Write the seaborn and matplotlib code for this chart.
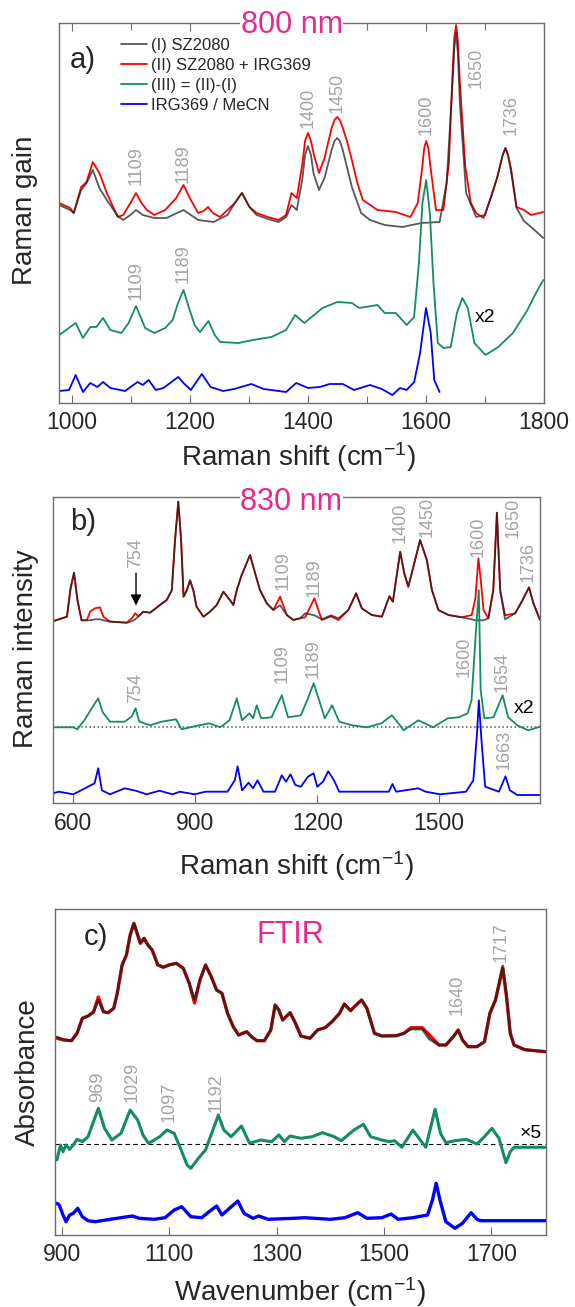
import matplotlib
matplotlib.use("Agg")
import matplotlib.pyplot as plt
import seaborn as sns

# ---------------- data ----------------
# panel a) 800 nm Raman gain, intensities in arbitrary units
a_red_x = [978.3, 996.9, 1003, 1015.5, 1024.8, 1035.3, 1046.5, 1059, 1077.5, 1086.8, 1099, 1108.5, 1117.8,
           1127, 1139.5, 1158, 1176.7, 1189, 1201.5, 1214, 1223, 1230.7, 1238.8, 1251, 1263.6, 1276, 1288,
           1300.8, 1313, 1332, 1350, 1362.8, 1372, 1381, 1390.7, 1395, 1400, 1405, 1409.3, 1418.6, 1428,
           1440, 1445, 1449.6, 1454, 1459, 1466, 1474.4, 1483.7, 1493, 1517.8, 1548.8, 1573.6, 1586,
           1593.5, 1597, 1600.3, 1604, 1607.8, 1617, 1629.5, 1638.8, 1645, 1648, 1651, 1654, 1657.4,
           1666.7, 1676, 1685, 1697.7, 1710, 1719, 1730, 1734.7, 1739, 1744, 1753.5, 1766, 1778, 1798.8]
a_red_y = [200, 195, 190, 216, 221, 241, 230, 210, 186, 188, 200, 210, 200,
           193, 188, 193, 205, 218, 203, 190, 192, 196, 190, 186, 193, 200, 210,
           196, 190, 186, 183, 188, 210, 205, 240, 262, 270, 262, 250, 230, 245,
           275, 283, 286, 283, 275, 262, 243, 220, 203, 193, 191, 186, 200,
           235, 255, 262, 255, 235, 193, 193, 240, 330, 365, 378, 362, 320,
           236, 200, 190, 185, 205, 222, 248, 255, 248, 235, 196, 193, 188, 191]

a_gray_x = [978.3, 996.9, 1003, 1015.5, 1024.8, 1035.3, 1046.5, 1059, 1077.5, 1086.8, 1099, 1108.5, 1120,
            1139.5, 1160, 1189, 1201.5, 1214, 1240, 1263.6, 1276, 1288, 1300.8, 1313, 1332, 1350, 1362.8,
            1372, 1381, 1390.7, 1395, 1400, 1405, 1409.3, 1418.6, 1428, 1440, 1445, 1449.6, 1454, 1459,
            1466, 1474.4, 1490, 1505, 1530, 1560, 1592, 1623, 1635, 1645, 1648, 1651, 1654, 1657.4, 1668,
            1685, 1700, 1712, 1722, 1730, 1734.7, 1739, 1744, 1753.5, 1766, 1780, 1798.8]
a_gray_y = [198, 193, 190, 213, 220, 233, 215, 203, 187, 183, 188, 193, 188,
            185, 185, 193, 188, 183, 181, 188, 200, 210, 196, 188, 184, 181, 186,
            198, 193, 225, 248, 257, 248, 230, 213, 225, 253, 262, 265, 262, 253,
            236, 216, 190, 183, 178, 176, 180, 181, 220, 320, 355, 370, 350, 300, 210,
            186, 188, 210, 228, 248, 255, 248, 232, 195, 182, 175, 165]

a_green_x = [978.3, 1006.2, 1018.6, 1031, 1041.5, 1052.7, 1065, 1083.7, 1096, 1108.5, 1124, 1139.5, 1158,
             1170.5, 1179.8, 1189, 1198.4, 1207.8, 1217, 1231.3, 1241.9, 1251, 1282, 1307, 1338, 1362.8,
             1378.3, 1393.8, 1424.8, 1449.6, 1474.4, 1486.8, 1517.8, 1530, 1548.8, 1567.4, 1579.8, 1588,
             1594, 1600.3, 1606.5, 1612.7, 1620, 1629.5, 1641.9, 1652.4, 1661.6, 1670.9, 1682, 1700.8,
             1722.5, 1747.3, 1772, 1784.5, 1798.8]
a_green_y = [68, 80, 65, 76, 76, 85, 73, 70, 80, 97, 75, 70, 75,
             83, 100, 113, 95, 78, 71, 82, 68, 61, 60, 63, 66, 73,
             88, 80, 95, 101, 100, 95, 98, 90, 90, 78, 86, 140,
             200, 223, 190, 120, 60, 55, 56, 90, 105, 95, 60, 48,
             56, 70, 93, 108, 123]

a_blue_x = [978.3, 995, 1006.2, 1018.6, 1031, 1043, 1052.7, 1065, 1090, 1111, 1120, 1130, 1142, 1155, 1180,
            1189, 1201.5, 1220, 1235, 1256, 1275, 1304, 1325, 1363, 1380, 1400, 1420, 1437, 1459, 1478,
            1505, 1525, 1543, 1556, 1567, 1580, 1590, 1600, 1608, 1614, 1623]
a_blue_y = [12, 13, 28, 11, 20, 16, 21, 15, 12, 21, 18, 23, 13, 15, 26,
            20, 13, 29, 16, 12, 14, 19, 14, 11, 20, 15, 16, 19, 19, 13,
            18, 14, 8, 15, 13, 21, 50, 95, 70, 23, 11]

a_labels_top = [(1108, 218, "1109"), (1189, 220, "1189"), (1400, 275, "1400"), (1450, 290, "1450"),
                (1601, 268, "1600"), (1685, 315, "1650"), (1744, 268, "1736")]
a_labels_low = [(1108, 103, "1109"), (1189, 120, "1189")]

# panel b) 830 nm Raman intensity
b_red_x = [549, 584, 593, 601.5, 610, 620, 633, 641, 653, 665.5, 673.6, 690, 731, 743.5, 752, 760, 772,
           788.5, 813, 829.6, 842, 850, 858, 865, 871, 879, 887, 895, 903, 920, 936, 952.6, 969, 985,
           993.5, 1002, 1014, 1034.6, 1047, 1059, 1075.7, 1092, 1108.5, 1125, 1141, 1157.7, 1170, 1193,
           1211, 1234, 1252, 1276.5, 1295.5, 1309.5, 1334, 1359, 1371, 1377.5, 1386, 1404, 1414, 1424,
           1436.5, 1453, 1469.5, 1482, 1498, 1522.6, 1555.6, 1580, 1589, 1596.5, 1603, 1609, 1621, 1633,
           1642, 1650, 1662, 1687, 1703, 1721, 1731.8, 1748]
b_red_y = [182, 186.6, 215, 230.6, 203, 183, 183, 191.6, 195, 196, 186.6, 181.7, 180.6, 185, 190, 187, 191.6,
           190.6, 198.3, 203.3, 213, 263, 301.6, 263, 206.6, 213, 223, 213, 196.6, 186.6, 191.6, 198.3, 211.6, 203.3,
           198.3, 213.3, 228.3, 248.3, 230, 213.3, 200, 193.3, 206.6, 188.3, 183.3, 185, 186, 205,
           183.3, 187, 183.3, 193.3, 210, 195, 188.3, 186.6, 200, 207, 201.6, 251.6, 230, 216.6,
           236.6, 263.3, 243.3, 213.3, 193.3, 188.3, 186, 188.3, 205, 245, 220, 193.3, 185, 213,
           290.6, 213, 188, 190, 201.6, 216, 200, 183.3]
b_gray_x = b_red_x
b_gray_y = [182, 186.6, 215, 230.6, 203, 183, 183, 183, 184, 184, 183, 181.7, 180.6, 182, 184, 187, 191.6,
            190.6, 198.3, 203.3, 213, 263, 301.6, 263, 206.6, 213, 223, 213, 196.6, 186.6, 191.6, 198.3, 211.6, 203.3,
            198.3, 213.3, 228.3, 248.3, 230, 213.3, 200, 193.3, 198, 188.3, 183.3, 185, 190, 188,
            184, 188, 185, 193.3, 210, 195, 188.3, 186.6, 200, 207, 201.6, 251.6, 230, 216.6,
            236.6, 263.3, 243.3, 213.3, 193.3, 188.3, 186, 184, 183, 183, 183, 183, 185, 213,
            290.6, 213, 184, 190, 201.6, 216, 200, 183.3]

b_green_x = [550, 600, 609, 627, 645, 661, 672, 690, 726, 744, 753, 762, 789.5, 816.6, 852.5, 866, 898, 934,
             961, 984, 1002, 1015, 1033, 1042, 1051, 1062, 1087.5, 1112.6, 1128, 1159.6, 1177, 1191, 1204.6,
             1218.5, 1236.5, 1254, 1285.6, 1322, 1358, 1383.6, 1403.5, 1412, 1448.6, 1484.7, 1521, 1548,
             1570, 1579.5, 1590, 1597.5, 1602, 1611, 1633.6, 1656, 1669.6, 1692, 1719, 1748]
b_green_y = [76, 76, 74, 83, 95, 105, 91, 81.6, 81.6, 87, 95, 81.6, 78, 81.6, 84, 74, 77, 80,
             76, 83, 105, 83, 90, 85, 98, 85, 86, 108, 86, 88, 105, 120, 103,
             85, 98, 81.6, 78, 76, 80, 88, 78, 73, 83, 76, 85, 86,
             90, 103, 170, 213, 113, 85, 86, 108, 86, 78, 73, 76.6]

b_blue_x = [550, 564, 600, 636, 652, 661, 670, 690, 726, 753, 780, 812, 843.6, 862, 898, 925, 979, 997, 1004,
            1015, 1031, 1042, 1053, 1067.6, 1096, 1112.6, 1123, 1134, 1146, 1159.6, 1177, 1191, 1200, 1214,
            1227, 1241, 1254, 1322, 1376, 1385, 1394, 1448.6, 1466.5, 1502.6, 1566, 1584, 1593, 1597.5,
            1604, 1613, 1647, 1663, 1674, 1692, 1748]
b_blue_y = [10, 11.6, 9, 16.6, 20, 35, 13, 9, 15, 12.6, 9, 12.6, 9, 11.6, 9, 11.6, 11.6, 23, 37,
            13, 20.6, 15, 23, 11.6, 11.6, 28, 21.6, 29, 18.3, 16.6, 26.6, 30, 16.6, 21.6,
            32, 23, 11.6, 11.6, 11.6, 19.3, 11.6, 15, 11.6, 9, 11.6, 23, 70, 103,
            63, 16.6, 11.6, 27, 13, 8.3, 8.3]

b_labels_top = [(754, 235, "754"), (1116.6, 213, "1109"), (1193, 206.6, "1189"), (1404, 260, "1400"),
                (1469.5, 266.6, "1450"), (1596.5, 246.6, "1600"), (1680.8, 265, "1650"), (1720, 221.6, "1736")]
b_labels_low = [(753, 100, "754"), (1113, 120, "1109"), (1191, 125, "1189"), (1561, 126.6, "1600"),
                (1656, 111.6, "1654"), (1660.7, 33.3, "1663")]

# panel c) FTIR absorbance
c_red_x = [890.4, 904, 917.7, 928, 938, 948.5, 958.8, 967.7, 977.2, 986, 996.4, 1003, 1012, 1020, 1027, 1034,
           1041, 1046, 1053, 1060, 1068, 1078.5, 1089, 1099, 1113, 1126, 1137, 1147, 1157, 1167.4, 1178,
           1188, 1198, 1208.4, 1219, 1229, 1244, 1253, 1263, 1277, 1289, 1297, 1304, 1311, 1325, 1335,
           1345, 1362, 1376, 1390, 1403, 1417, 1426, 1437.5, 1446, 1458, 1468, 1482, 1496, 1523, 1537,
           1550, 1571, 1584.5, 1602, 1615, 1629, 1638, 1646, 1656.3, 1673, 1687, 1697, 1707.5, 1716, 1721,
           1728, 1735, 1742, 1762, 1801]
c_red_y = [196.7, 195, 194.3, 201.7, 216.7, 219, 223, 238, 223.3, 222.3, 226.7, 241.7, 270, 280, 300, 311.7,
           300, 291.7, 296.7, 290, 285, 270, 267.7, 270, 271.7, 266.7, 251.7, 232, 255, 270, 258.3,
           245, 241.7, 221.7, 208.3, 200, 203.3, 198.3, 194.3, 194.3, 205, 230, 225, 215, 222.3, 211.7,
           199, 196.7, 205, 207.3, 213.3, 221.7, 231, 224.3, 229, 235, 226.7, 201.7, 199, 199.3, 201.7,
           207.3, 207.3, 200, 190, 190, 198.3, 205, 195, 188.3, 188.3, 193.3, 221.7, 235, 255, 266.7,
           238, 201.7, 190, 185.3, 183.3]
c_gray_x = c_red_x
c_gray_y = [198, 195, 194.3, 201.7, 216.7, 219, 223, 235, 223.3, 222.3, 226.7, 241.7, 270, 280, 300, 311.7,
            300, 291.7, 296.7, 290, 285, 270, 267.7, 270, 271.7, 266.7, 251.7, 235, 255, 270, 258.3,
            245, 241.7, 221.7, 208.3, 200, 203.3, 198.3, 194.3, 194.3, 205, 230, 225, 215, 222.3, 211.7,
            199, 196.7, 205, 207.3, 213.3, 221.7, 231, 224.3, 229, 235, 226.7, 201.7, 199, 199.3, 201.7,
            206, 206, 196, 190, 190, 198.3, 205, 195, 188.3, 188.3, 193.3, 221.7, 235, 257, 269,
            240, 201.7, 190, 185.3, 183.3]

c_green_x = [890.4, 897.3, 902, 907.5, 914.3, 921, 928, 938, 948.5, 967.7, 979.3, 993, 1010, 1027, 1041, 1051,
             1061, 1072, 1082, 1095.5, 1109, 1119.5, 1133, 1140, 1154, 1167.4, 1181, 1191.3, 1201.5, 1215,
             1234.3, 1249.4, 1270, 1290.4, 1304, 1314.4, 1324.6, 1345, 1366, 1385, 1407, 1420, 1444, 1461.4,
             1475, 1495.6, 1509, 1519.5, 1533, 1553.6, 1567.3, 1577.6, 1595, 1605, 1615, 1632, 1653, 1673,
             1687, 1700.7, 1714, 1727, 1735, 1742, 1801]
c_green_y = [75, 90, 83.3, 90, 85.7, 90, 95.7, 93.3, 98.3, 126.7, 106.7, 95, 101.7, 125, 115, 100,
             91.7, 95, 98.3, 105, 101.7, 88.3, 70, 66.7, 76.7, 85, 105, 120, 105, 98.3,
             109, 91.7, 95, 93.3, 100, 93.3, 99, 96.7, 98.3, 102.3, 98.3, 94.3, 105, 110.7,
             98.3, 95, 93.3, 94.3, 87.7, 105, 95, 87.7, 125.7, 101.7, 92.3, 94.3, 95.7, 91,
             98.3, 106.7, 96.7, 72.3, 83.3, 87.7, 87.7]

c_blue_x = [890.4, 895, 900.6, 907.5, 914.3, 921, 929.4, 938, 948.5, 962, 990, 1031, 1044, 1072, 1092, 1109,
            1123, 1140, 1160.5, 1174, 1188, 1198, 1212, 1227.5, 1239, 1256, 1266.5, 1284, 1331.4, 1352,
            1400, 1427, 1451, 1468, 1496, 1513, 1526, 1553.6, 1581, 1590, 1597, 1604, 1615, 1632, 1646,
            1662, 1673, 1680, 1801]
c_blue_y = [31.7, 30, 21.7, 13.3, 20, 21.7, 26.7, 18.3, 14.3, 13.3, 15.7, 19, 16.7, 15.7, 17.3, 25,
            28.3, 18.3, 17.3, 23.3, 29, 20, 26.7, 34, 21.7, 16.7, 19, 15.7, 16.7, 17.3,
            15.7, 17.3, 22.3, 16.7, 17.3, 21, 15.7, 17.3, 20, 35, 51.7, 35, 13.3, 6.7, 11.7,
            22.3, 15.7, 14.3, 14.3]

c_labels_top = [(1636, 220, "1640"), (1718, 273.3, "1717")]
c_labels_low = [(965.6, 133.3, "969"), (1030.6, 133.3, "1029"), (1099, 113.3, "1097"), (1188, 123.3, "1192")]

# ---------------- style ----------------
sns.set_theme(style="ticks")
plt.rcParams["font.family"] = ["Liberation Sans", "DejaVu Sans"]
plt.rcParams["mathtext.default"] = "regular"

GRAY = "#202020"
RED = "#ff0000"
GREEN = "#138d5b"
BLUE = "#0000ff"
ANNO = "#a3a3a3"
PINK = "#e8288c"
SPINE = "#6e6e6e"

W, H = 575, 1307
fig = plt.figure(figsize=(W / 100, H / 100), dpi=100)


def px_axes(left, top, right, bottom):
    return fig.add_axes([left / W, 1 - bottom / H, (right - left) / W, (bottom - top) / H])


def style_axes(ax, xlim, ylim, major, minor=None, top_ticks=False):
    ax.set_xlim(*xlim)
    ax.set_ylim(*ylim)
    ax.set_yticks([])
    ax.set_xticks(major)
    if minor is not None:
        ax.set_xticks(minor, minor=True)
    for s in ax.spines.values():
        s.set_color(SPINE)
        s.set_linewidth(1.0)
    ax.tick_params(axis="x", which="both", direction="in", top=top_ticks, color=SPINE,
                   labelsize=16.5, pad=6, width=0.8)
    ax.tick_params(axis="x", which="major", length=6)
    ax.tick_params(axis="x", which="minor", length=5)


def put_labels(ax, items):
    for x, y, t in items:
        ax.text(x, y, t, rotation=90, ha="center", va="bottom", color=ANNO, fontsize=13)


# ---------------- panel a ----------------
ax = px_axes(59, 23.3, 544, 403)
sns.lineplot(x=a_red_x, y=a_red_y, ax=ax, color=RED, lw=1.3, label="(II) SZ2080 + IRG369")
sns.lineplot(x=a_gray_x, y=a_gray_y, ax=ax, color=GRAY, alpha=0.75, lw=1.3, label="(I) SZ2080")
sns.lineplot(x=a_green_x, y=a_green_y, ax=ax, color=GREEN, lw=1.3, label="(III) = (II)-(I)")
sns.lineplot(x=a_blue_x, y=a_blue_y, ax=ax, color=BLUE, lw=1.3, label="IRG369 / MeCN")
style_axes(ax, (978, 1800), (0, 379.7), range(1000, 1801, 200), range(1100, 1800, 200), top_ticks=True)
put_labels(ax, a_labels_top + a_labels_low)
ax.text(1701, 85, "x2", ha="center", va="center", fontsize=14, color="black")
ax.text(0.48, 0.995, "800 nm", transform=ax.transAxes, ha="center", va="center", fontsize=22,
        color=PINK, bbox=dict(facecolor="white", edgecolor="none", pad=0.5))
ax.text(0.0485, 0.903, "a)", transform=ax.transAxes, ha="center", va="center", fontsize=21)
handles, labels = ax.get_legend_handles_labels()
order = ["(I) SZ2080", "(II) SZ2080 + IRG369", "(III) = (II)-(I)", "IRG369 / MeCN"]
hmap = dict(zip(labels, handles))
ax.legend([hmap[k] for k in order], order, loc="upper left", bbox_to_anchor=(0.128, 0.962),
          frameon=False, fontsize=12, handlelength=1.55, handletextpad=0.25, labelspacing=0.3,
          borderpad=0, borderaxespad=0)
fig.text(298 / W, 1 - 457 / H, "Raman shift (cm$^{-1}$)", ha="center", va="center", fontsize=20)
fig.text(25 / W, 1 - 210 / H, "Raman gain", rotation=90, ha="center", va="center", fontsize=20)

# ---------------- panel b ----------------
ax = px_axes(52.7, 497.3, 540, 803.3)
sns.lineplot(x=b_red_x, y=b_red_y, ax=ax, color=RED, lw=1.3)
sns.lineplot(x=b_gray_x, y=b_gray_y, ax=ax, color=GRAY, alpha=0.75, lw=1.3)
sns.lineplot(x=b_green_x, y=b_green_y, ax=ax, color=GREEN, lw=1.3)
sns.lineplot(x=b_blue_x, y=b_blue_y, ax=ax, color=BLUE, lw=1.3)
ax.axhline(76.6, color="#555555", ls=":", lw=1.1, zorder=1)
style_axes(ax, (549, 1748), (0, 306), [600, 900, 1200, 1500])
put_labels(ax, b_labels_top + b_labels_low)
ax.annotate("", xy=(754, 195), xytext=(754, 233),
            arrowprops=dict(arrowstyle="-|>", color="black", lw=1, mutation_scale=16))
ax.text(1710, 95, "x2", ha="center", va="center", fontsize=14, color="black")
ax.text(0.49, 0.985, "830 nm", transform=ax.transAxes, ha="center", va="center", fontsize=22,
        color=PINK, bbox=dict(facecolor="white", edgecolor="none", pad=0.5))
ax.text(0.062, 0.920, "b)", transform=ax.transAxes, ha="center", va="center", fontsize=21)
fig.text(296 / W, 1 - 866 / H, "Raman shift (cm$^{-1}$)", ha="center", va="center", fontsize=20)
fig.text(25.7 / W, 1 - 649 / H, "Raman intensity", rotation=90, ha="center", va="center", fontsize=20)

# ---------------- panel c ----------------
ax = px_axes(55, 909, 545.7, 1235)
sns.lineplot(x=c_red_x, y=c_red_y, ax=ax, color=RED, lw=2.4)
sns.lineplot(x=c_gray_x, y=c_gray_y, ax=ax, color=GRAY, alpha=0.75, lw=2.0)
sns.lineplot(x=c_green_x, y=c_green_y, ax=ax, color=GREEN, lw=2.2)
sns.lineplot(x=c_blue_x, y=c_blue_y, ax=ax, color=BLUE, lw=2.4)
ax.axhline(91, color="black", ls=(0, (4, 3)), lw=0.8, zorder=1)
style_axes(ax, (887, 1801), (0, 326), [900, 1100, 1300, 1500, 1700])
put_labels(ax, c_labels_top + c_labels_low)
ax.text(1772.5, 102, "\u00d75", ha="center", va="center", fontsize=14, color="black")
ax.text(0.479, 0.920, "FTIR", transform=ax.transAxes, ha="center", va="center", fontsize=22, color=PINK)
ax.text(0.0836, 0.914, "c)", transform=ax.transAxes, ha="center", va="center", fontsize=21)
fig.text(300 / W, 1 - 1292 / H, "Wavenumber (cm$^{-1}$)", ha="center", va="center", fontsize=20)
fig.text(27.5 / W, 1 - 1072 / H, "Absorbance", rotation=90, ha="center", va="center", fontsize=20)

fig.savefig("out.png", dpi=100)
